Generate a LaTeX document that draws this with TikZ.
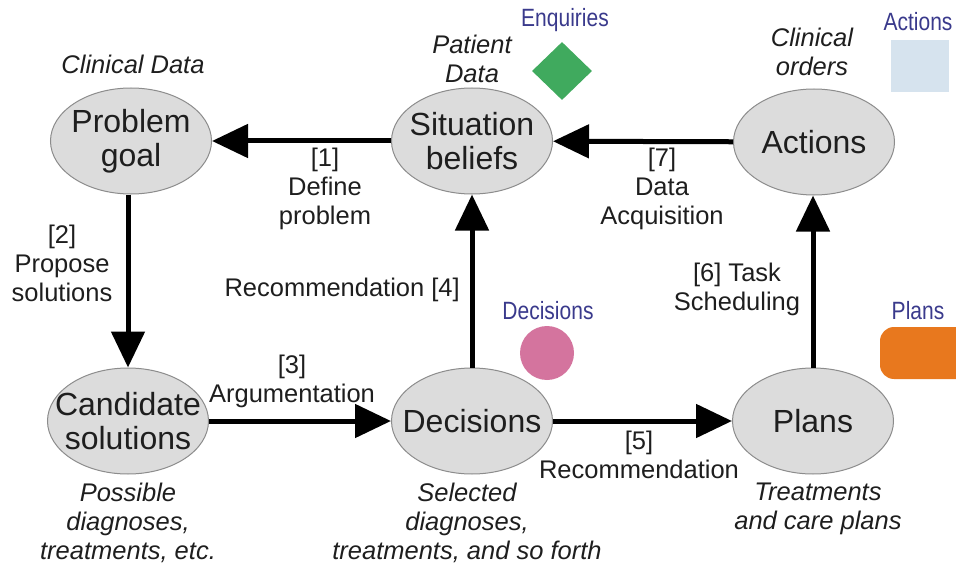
\documentclass[tikz,border=0pt]{standalone}
\usepackage{fontspec}
\setmainfont{Liberation Sans}
\newfontfamily\legendfont[FakeStretch=0.84]{Liberation Sans}
\usetikzlibrary{arrows.meta,shapes.geometric}

\definecolor{nodefill}{HTML}{DCDCDC}
\definecolor{nodeline}{HTML}{8C8C8C}
\definecolor{inktext}{HTML}{1E1E1E}
\definecolor{legendblue}{HTML}{3A3A8C}
\definecolor{enquirygreen}{HTML}{40AA5E}
\definecolor{actionblue}{HTML}{D6E3EE}
\definecolor{decisionpink}{HTML}{D4749E}
\definecolor{planorange}{HTML}{E8781E}

\tikzset{
  state/.style={ellipse, draw=nodeline, line width=1pt, fill=nodefill,
    minimum width=161pt, minimum height=106pt, inner sep=0pt,
    label={[statetext]center:{#1}}},
  statetext/.style={align=center, text=inktext, inner sep=0pt,
    font=\fontsize{32}{34}\selectfont},
  flow/.style={line width=5pt, draw=black,
    -{Triangle[length=36pt,width=33pt]}},
  steplabel/.style={align=center, text=inktext, inner sep=0pt,
    font=\fontsize{25.5}{29}\selectfont},
  note/.style={align=center, text=inktext, inner sep=0pt,
    font=\fontsize{25.5}{29}\selectfont\itshape},
  legendlabel/.style={text=legendblue, inner sep=0pt,
    font=\fontsize{25}{28}\selectfont\legendfont},
}

\begin{document}
\begin{tikzpicture}[x=1pt,y=-1pt]
\useasboundingbox (0,0) rectangle (956,567);

% main states
\node[state={Problem\\goal}]       (problem)   at (131,141) {};
\node[state={Situation\\beliefs}]  (situation) at (472,141) {};
\node[state={Actions}]             (actions)   at (814,142) {};
\node[state={Candidate\\solutions}] (candidate) at (128,421) {};
\node[state={Decisions}]           (decisions) at (472,421) {};
\node[state={Plans}]               (plans)     at (813,421) {};

% transitions
\draw[flow] (situation) -- (problem);
\draw[flow] (problem.south -| candidate) -- (candidate);
\draw[flow] (candidate) -- (decisions);
\draw[flow] (decisions) -- (situation);
\draw[flow] (decisions) -- (plans);
\draw[flow] (plans) -- (actions.south -| plans);
\draw[flow] (actions) -- (situation);

% transition labels
\node[steplabel] (l1) at (325,189) {[1]\\Define\\problem};
\node[steplabel] (l2) at (62,263) {[2]\\Propose\\solutions};
\node[steplabel] (l3) at (292,381) {[3]\\Argumentation};
\node[steplabel, anchor=east] (l4) at (460,290) {Recommendation [4]};
\node[steplabel] (l5) at (639,455) {[5]\\Recommendation};
\node[steplabel] (l6) at (737,289) {[6] Task\\Scheduling};
\node[steplabel] (l7) at (662,189) {[7]\\Data\\Acquisition};

% annotations
\node[note] (n1) at (133,64)  {Clinical Data};
\node[note] (n2) at (472,59)  {Patient\\Data};
\node[note] (n3) at (812,52)  {Clinical\\orders};
\node[note] (n4) at (128,523) {Possible\\diagnoses,\\treatments, etc.};
\node[note] (n5) at (467,523) {Selected\\diagnoses,\\treatments, and so forth};
\node[note] (n6) at (818,509) {Treatments\\and care plans};

% legend symbols
\node[legendlabel] (kenq) at (565,20) {Enquiries};
\node[diamond, fill=enquirygreen, inner sep=0pt,
      minimum width=60pt, minimum height=58pt] (ienq) at (562,71) {};
\node[legendlabel] (kact) at (918,22) {Actions};
\node[rectangle, fill=actionblue, inner sep=0pt,
      minimum width=58pt, minimum height=52pt] (iact) at (920,66) {};
\node[legendlabel] (kdec) at (548,311) {Decisions};
\node[circle, fill=decisionpink, inner sep=0pt,
      minimum size=54pt] (idec) at (547,353) {};
\node[legendlabel] (kpla) at (918,311) {Plans};
\begin{scope}
  \clip (0,0) rectangle (956,567);
  \node[rectangle, rounded corners=14pt, fill=planorange, inner sep=0pt,
        minimum width=110pt, minimum height=52pt] (ipla) at (935,353) {};
\end{scope}
\end{tikzpicture}
\end{document}
